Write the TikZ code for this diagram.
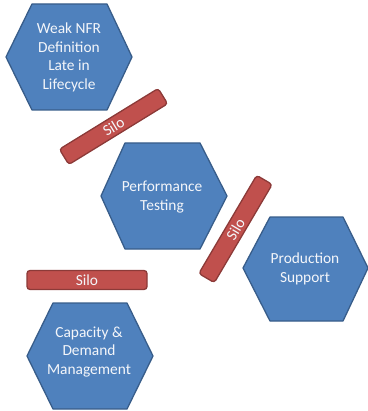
\documentclass[tikz,border=0pt]{standalone}
\usepackage{fontspec}
\setmainfont{Carlito}
\definecolor{hexfill}{HTML}{4F81BD}
\definecolor{hexline}{HTML}{385D8A}
\definecolor{silofill}{HTML}{C0504D}
\definecolor{siloline}{HTML}{8C3A38}
\definecolor{txt}{HTML}{F4F6FA}
\tikzset{
  hexa/.style={fill=hexfill, draw=hexline, line width=1.3pt, line join=round},
  hextext/.style={text=txt, align=center, font=\fontsize{15.4}{18.7}\selectfont, inner sep=0pt},
  silo/.style={fill=silofill, draw=siloline, line width=1.3pt, rounded corners=3pt,
    minimum width=116pt, minimum height=18pt, inner sep=0pt, text=txt,
    font=\fontsize{15.4}{18.7}\selectfont}
}
\begin{document}
\begin{tikzpicture}[x=1pt,y=-1pt]
\useasboundingbox (0,0) rectangle (367,411);
% hexagons
\draw[hexa] (6,57) -- (32,4) -- (107,4) -- (132,57) -- (107,110) -- (32,110) -- cycle;
\node[hextext] (h1) at (69,57.5) {Weak NFR\\Definition\\Late in\\Lifecycle};
\draw[hexa] (101,196) -- (125,143) -- (200,143) -- (227,196) -- (200,249) -- (125,249) -- cycle;
\node[hextext] (h2) at (162,197) {Performance\\Testing};
\draw[hexa] (243,268) -- (270,217) -- (343,217) -- (368,268) -- (343,321) -- (270,321) -- cycle;
\node[hextext] (h3) at (305,269) {Production\\Support};
\draw[hexa] (27,356) -- (53,303) -- (127,303) -- (153,356) -- (127,409) -- (53,409) -- cycle;
\node[hextext] (h4) at (89,352) {Capacity \&\\Demand\\Management};
% silos
\node[silo, rotate=31.6] (s1) at (113.5,126.5) {Silo};
\node[silo, rotate=59.5, minimum width=114pt] (s2) at (235.5,229) {Silo};
\node[silo, minimum width=120pt, minimum height=19pt] (s3) at (87,280) {Silo};
\end{tikzpicture}
\end{document}
